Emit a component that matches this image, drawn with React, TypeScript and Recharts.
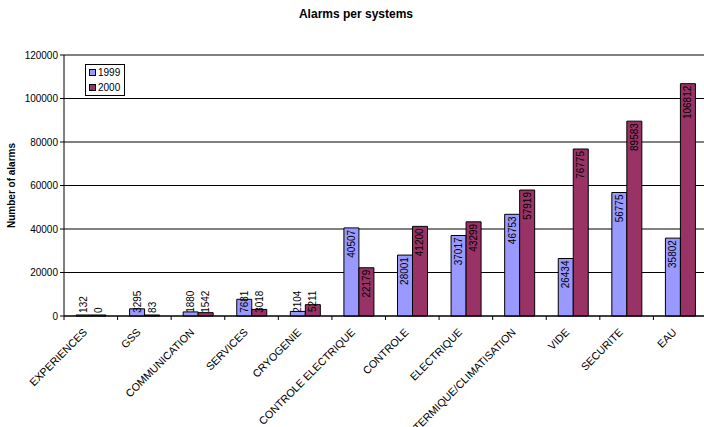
import React from "react";
import {
  BarChart,
  Bar,
  XAxis,
  YAxis,
  CartesianGrid,
  Legend,
  LabelList,
} from "recharts";

// categories and yearly alarm counts
const systems = [
  "EXPERIENCES",
  "GSS",
  "COMMUNICATION",
  "SERVICES",
  "CRYOGENIE",
  "CONTROLE ELECTRIQUE",
  "CONTROLE",
  "ELECTRIQUE",
  "TERMIQUE/CLIMATISATION",
  "VIDE",
  "SECURITE",
  "EAU",
];
const alarms1999 = [132, 3295, 1880, 7681, 2104, 40507, 28001, 37017, 46753, 26434, 56775, 35802];
const alarms2000 = [0, 83, 1542, 3018, 5211, 22179, 41200, 43299, 57919, 76775, 89583, 106812];
const yTicks = [0, 20000, 40000, 60000, 80000, 100000, 120000];

const data = systems.map((name, i) => ({
  name,
  y1999: alarms1999[i],
  y2000: alarms2000[i],
}));

const FONT = '"Liberation Sans", Arial, sans-serif';
const CHART_W = 707;
const CHART_H = 427;
const PLOT_LEFT = 64;
const BAND = (CHART_W - PLOT_LEFT) / systems.length;

// Excel-ish value label: rotated, just inside the bar end, but never below the baseline
const renderValue = (props: any) => {
  const { x, y, width, height, value } = props;
  const base = y + height;
  const len = String(value).length * 5.6;
  const top = Math.min(y + 2, base - 3 - len);
  const cx = x + width / 2;
  return (
    <text
      x={cx}
      y={top}
      transform={`rotate(-90 ${cx} ${top})`}
      textAnchor="end"
      dominantBaseline="central"
      fontSize={10}
      fontFamily={FONT}
      fill="#000"
    >
      {value}
    </text>
  );
};

// tick marks sit on category boundaries, labels tilted 45deg
const XTick = (props: any) => {
  const { x, y, payload } = props;
  const bx = x - BAND / 2;
  const ax = x - 3;
  const ay = y + 13;
  return (
    <g>
      <line x1={bx} x2={bx} y1={y - 4} y2={y} stroke="#000" />
      <text
        x={ax}
        y={ay}
        transform={`rotate(-45 ${ax} ${ay})`}
        textAnchor="end"
        fontSize={10.7}
        fontFamily={FONT}
        fill="#000"
      >
        {payload.value}
      </text>
    </g>
  );
};

const LegendBox = () => (
  <div
    style={{
      border: "1px solid #000",
      background: "#fff",
      padding: "0px 4px 0px 3px",
      fontFamily: FONT,
      fontSize: 10,
      lineHeight: "15px",
      color: "#000",
    }}
  >
    {[
      { label: "1999", color: "#9999FF" },
      { label: "2000", color: "#993366" },
    ].map((it) => (
      <div key={it.label} style={{ display: "flex", alignItems: "center" }}>
        <span
          style={{
            display: "inline-block",
            width: 5,
            height: 5,
            border: "1px solid #000",
            background: it.color,
            marginRight: 2,
          }}
        />
        {it.label}
      </div>
    ))}
  </div>
);

export default function App() {
  return (
    <div
      style={{
        position: "absolute",
        left: 0,
        top: 0,
        width: 704,
        height: 427,
        overflow: "hidden",
        background: "#fff",
      }}
    >
      <div
        style={{
          position: "absolute",
          left: 0,
          top: 7,
          width: 712,
          textAlign: "center",
          fontFamily: FONT,
          fontWeight: "bold",
          fontSize: 12,
          color: "#000",
        }}
      >
        Alarms per systems
      </div>
      <BarChart
        width={CHART_W}
        height={CHART_H}
        data={data}
        margin={{ top: 55, right: 0, bottom: 0, left: 0 }}
        barGap={0}
        barSize={15}
      >
        <CartesianGrid vertical={false} stroke="#000" />
        <XAxis
          dataKey="name"
          interval={0}
          height={111}
          tickSize={4}
          tickMargin={0}
          tickLine={false}
          axisLine={{ stroke: "#000" }}
          tick={<XTick />}
        />
        <YAxis
          width={PLOT_LEFT}
          domain={[0, 120000]}
          ticks={yTicks}
          interval={0}
          tickSize={4}
          tickMargin={2}
          axisLine={{ stroke: "#000" }}
          tickLine={{ stroke: "#000" }}
          tick={{ fontSize: 10, fill: "#000", fontFamily: FONT }}
          label={{
            value: "Number of alarms",
            angle: -90,
            position: "insideLeft",
            offset: 11,
            style: { fontSize: 10, fontWeight: "bold", fill: "#000", fontFamily: FONT, textAnchor: "middle" },
          }}
        />
        <Legend
          layout="vertical"
          align="center"
          verticalAlign="middle"
          wrapperStyle={{ left: 85, top: 64, width: "auto" }}
          content={<LegendBox />}
        />
        <Bar
          dataKey="y1999"
          name="1999"
          fill="#9999FF"
          stroke="#000"
          strokeWidth={1}
          minPointSize={1}
          isAnimationActive={false}
        >
          <LabelList dataKey="y1999" content={renderValue} />
        </Bar>
        <Bar
          dataKey="y2000"
          name="2000"
          fill="#993366"
          stroke="#000"
          strokeWidth={1}
          minPointSize={1}
          isAnimationActive={false}
        >
          <LabelList dataKey="y2000" content={renderValue} />
        </Bar>
      </BarChart>
    </div>
  );
}
